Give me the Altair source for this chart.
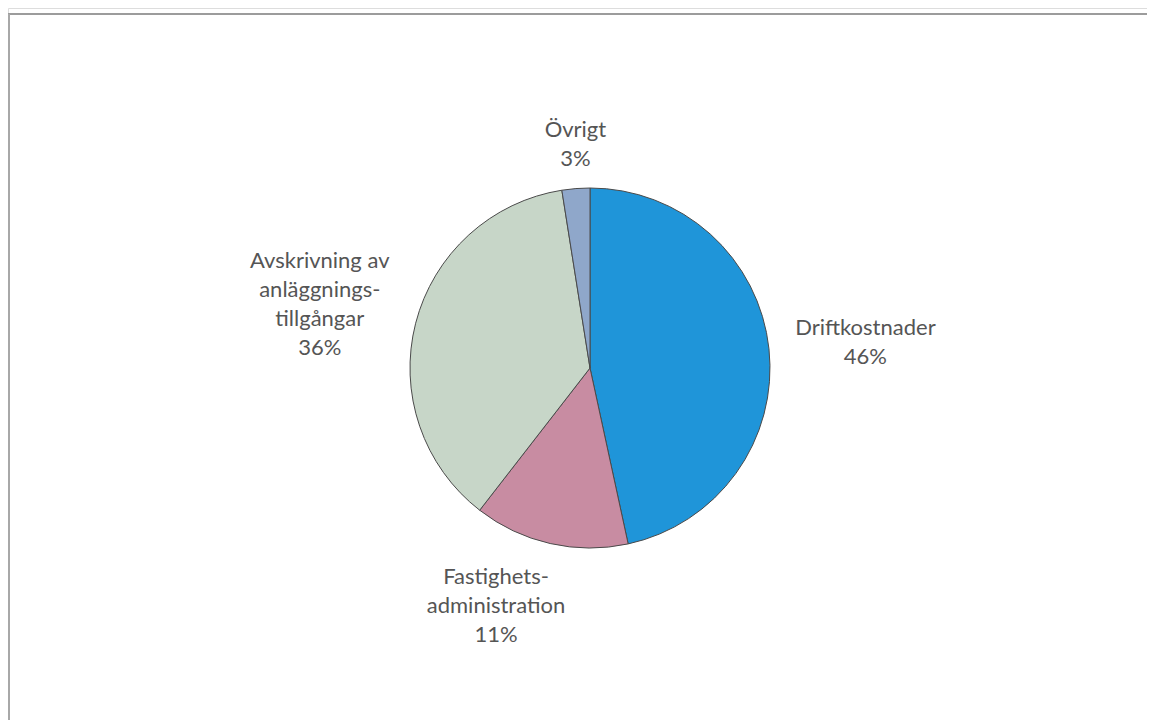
import altair as alt
import pandas as pd

categories = ["Driftkostnader", "Fastighetsadministration",
              "Avskrivning av anläggningstillgångar", "Övrigt"]
values = [46.6, 13.9, 37.0, 2.5]
label_names = ["Driftkostnader", "Fastighets-\nadministration",
               "Avskrivning av\nanläggnings-\ntillgångar", "Övrigt"]
pct_labels = ["46%", "11%", "36%", "3%"]
colors = ["#1f95d9", "#c88ca2", "#c7d6c8", "#8fa7ca"]

df = pd.DataFrame({
    "cat": categories,
    "value": values,
    "order": list(range(len(categories))),
    "label": [f"{n}\n{p}" for n, p in zip(label_names, pct_labels)],
})

W, H = 1139, 712
CX, CY = 582, 360
LH = 29
total = sum(values)
theta_scale = alt.Scale(domain=[0, total], nice=False, zero=True)

base = alt.Chart(df).transform_window(
    v1="sum(value)", sort=[alt.SortField("order")], frame=[None, 0]
).transform_calculate(
    v0="datum.v1 - datum.value",
    mid="datum.v1 - datum.value / 2",
).encode(
    x=alt.value(CX),
    y=alt.value(CY),
)

pie = base.mark_arc(outerRadius=180, stroke="#4a4a4a", strokeWidth=1).encode(
    theta=alt.Theta("v0:Q", scale=theta_scale),
    theta2="v1:Q",
    color=alt.Color("cat:N", scale=alt.Scale(domain=categories, range=colors), legend=None),
)

# label placement style per category (radius, dx, dy)
label_style = {
    "Driftkostnader": (277, 0, -10),
    "Fastighetsadministration": (244, -40, -29),
    "Avskrivning av anläggningstillgångar": (279, 0, -38),
    "Övrigt": (224, 3, -15),
}

text_layers = []
for cat, (r, dx, dy) in label_style.items():
    text_layers.append(
        base.mark_text(radius=r, dx=dx, dy=dy, font="Lato", fontSize=22, color="#555555",
                       lineBreak="\n", lineHeight=LH, align="center", baseline="middle")
        .encode(theta=alt.Theta("mid:Q", scale=theta_scale), text="label:N")
        .transform_filter(alt.datum.cat == cat)
    )

frame_top = alt.Chart(df).mark_rule(color="#9c9c9c", strokeWidth=2).encode(
    x=alt.value(0), x2=alt.value(W), y=alt.value(6)
)
frame_left = alt.Chart(df).mark_rule(color="#a8a8a8", strokeWidth=2).encode(
    x=alt.value(1), y=alt.value(6), y2=alt.value(H)
)

chart = alt.layer(frame_top, frame_left, pie, *text_layers).properties(
    width=W, height=H, padding=0,
    autosize=alt.AutoSizeParams(type="none"),
).configure_view(stroke=None).configure(background="white")

chart.save("out.html", embed_options={"renderer": "svg", "actions": False})
